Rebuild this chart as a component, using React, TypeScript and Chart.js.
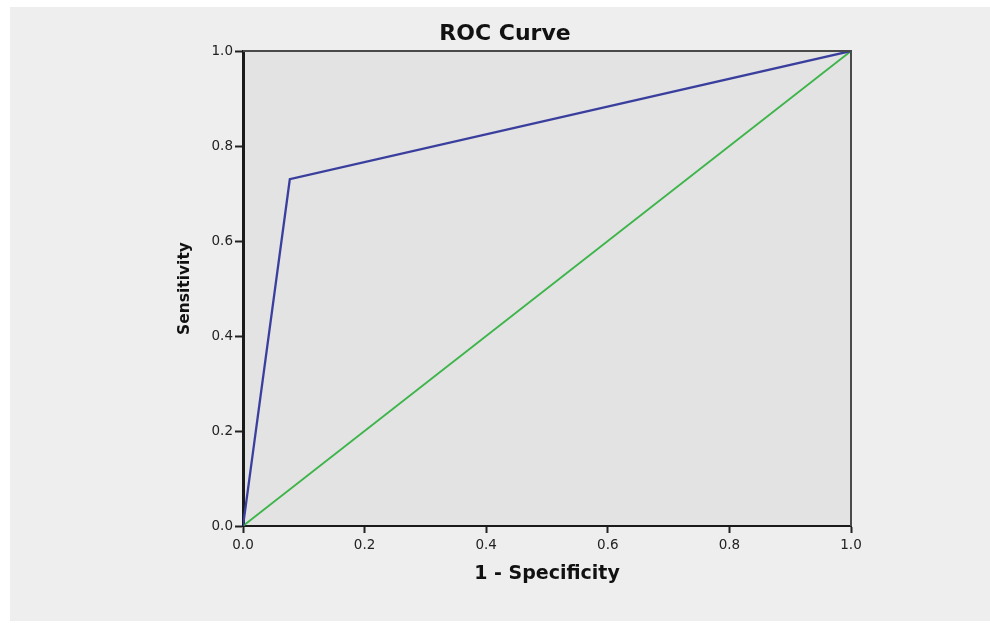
import React, { useEffect, useRef } from "react";
import { Chart, registerables } from "chart.js";

Chart.register(...registerables);

const rocX = [0, 0.077, 1];
const rocY = [0, 0.73, 1];
const refX = [0, 1];
const refY = [0, 1];
const tickValues = [0, 0.2, 0.4, 0.6, 0.8, 1.0];

const FONT = "'DejaVu Sans', sans-serif";

const plotBg = {
  id: "plotBg",
  beforeDraw(chart: any) {
    const { ctx, chartArea: a } = chart;
    ctx.save();
    ctx.fillStyle = "#e3e3e3";
    ctx.fillRect(a.left, a.top, a.right - a.left, a.bottom - a.top);
    ctx.restore();
  },
  afterDatasetsDraw(chart: any) {
    const { ctx, chartArea: a } = chart;
    ctx.save();
    ctx.strokeStyle = "#4a4a4a";
    ctx.lineWidth = 2;
    ctx.beginPath();
    ctx.moveTo(a.left, a.top);
    ctx.lineTo(a.right, a.top);
    ctx.lineTo(a.right, a.bottom);
    ctx.stroke();
    ctx.restore();
  },
};

export default function App() {
  const ref = useRef<HTMLCanvasElement>(null);
  useEffect(() => {
    if (!ref.current) return;
    const chart = new Chart(ref.current, {
      type: "scatter",
      data: {
        datasets: [
          {
            label: "Reference",
            data: refX.map((x, i) => ({ x, y: refY[i] })),
            showLine: true,
            borderColor: "#3db54a",
            borderWidth: 1.8,
            pointRadius: 0,
            order: 2,
          },
          {
            label: "ROC",
            data: rocX.map((x, i) => ({ x, y: rocY[i] })),
            showLine: true,
            borderColor: "#3a3f9e",
            borderWidth: 2.3,
            pointRadius: 0,
            order: 1,
          },
        ],
      },
      options: {
        animation: false,
        responsive: false,
        layout: { padding: { left: 20, right: 0, top: 0, bottom: 0 } },
        plugins: {
          legend: { display: false },
          tooltip: { enabled: false },
          title: {
            display: true,
            text: "ROC Curve",
            color: "#111",
            font: { family: FONT, size: 22, weight: "bold" },
            padding: { top: 21, bottom: 3.6 },
          },
        },
        scales: {
          x: {
            type: "linear",
            position: "bottom",
            min: 0,
            max: 1,
            afterBuildTicks: (s: any) => {
              s.ticks = tickValues.map((v) => ({ value: v }));
            },
            afterFit: (s: any) => {
              s.height = 97;
            },
            ticks: {
              color: "#222",
              font: { family: FONT, size: 13.5 },
              padding: 4,
              maxRotation: 0,
              callback: (v: any) => Number(v).toFixed(1),
            },
            grid: {
              drawOnChartArea: false,
              drawTicks: true,
              tickLength: 7,
              tickColor: "#222",
              tickWidth: 2,
            },
            border: { display: true, color: "#1a1a1a", width: 2 },
            title: {
              display: true,
              text: "1 - Specificity",
              color: "#111",
              font: { family: FONT, size: 19, weight: "bold" },
              padding: { top: 0, bottom: 38 },
            },
          },
          y: {
            type: "linear",
            position: "left",
            min: 0,
            max: 1,
            afterBuildTicks: (s: any) => {
              s.ticks = tickValues.map((v) => ({ value: v }));
            },
            afterFit: (s: any) => {
              s.width = 223;
            },
            ticks: {
              color: "#222",
              font: { family: FONT, size: 13.5 },
              padding: 2,
              callback: (v: any) => Number(v).toFixed(1),
            },
            grid: {
              drawOnChartArea: false,
              drawTicks: true,
              tickLength: 8,
              tickColor: "#222",
              tickWidth: 2,
            },
            border: { display: true, color: "#1a1a1a", width: 3 },
            title: {
              display: true,
              text: "Sensitivity",
              color: "#111",
              font: { family: FONT, size: 15.5, weight: "bold" },
              padding: { top: 156, bottom: 0 },
            },
          },
          yR: {
            type: "linear",
            position: "right",
            display: true,
            min: 0,
            max: 1,
            afterFit: (s: any) => {
              s.width = 139;
            },
            ticks: { display: false },
            grid: { display: false, drawTicks: false },
            border: { display: false },
          },
        },
      },
      plugins: [plotBg],
    });
    return () => chart.destroy();
  }, []);

  return (
    <div style={{ position: "absolute", left: 0, top: 0, width: 990, height: 623, background: "#fff", overflow: "hidden" }}>
      <div style={{ position: "absolute", left: 10, top: 7, right: 0, bottom: 2, background: "#eeeeee" }} />
      <canvas ref={ref} width={990} height={623} style={{ position: "absolute", left: 0, top: 0, width: 990, height: 623 }} />
    </div>
  );
}
